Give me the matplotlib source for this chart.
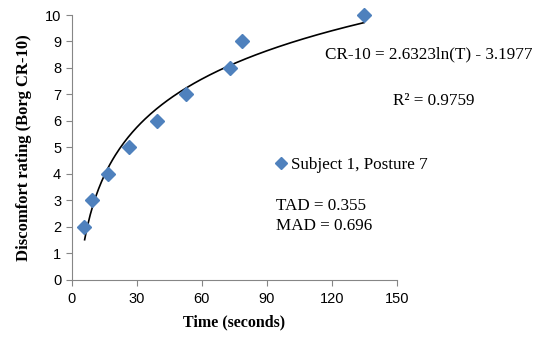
import numpy as np
import matplotlib.pyplot as plt

# data points
time_s = [5.5, 9.5, 16.7, 26.6, 39.3, 52.7, 72.9, 78.7, 134.9]
rating = [2, 3, 4, 5, 6, 7, 8, 9, 10]

# log fit shown on the chart
fit_a = 2.6323
fit_b = -3.1977
fit_t = np.linspace(6.0, 134.9, 200)
fit_y = fit_a * np.log(fit_t) + fit_b

fig = plt.figure(figsize=(5.51, 3.41), dpi=100)
ax = fig.add_axes([0.13, 0.179, 0.59, 0.777])

ax.plot(time_s, rating, linestyle="none", marker="D", markersize=7,
        color="#4F81BD", label="Subject 1, Posture 7", clip_on=False, zorder=3)
ax.plot(fit_t, fit_y, color="black", linewidth=1.2)

ax.set_xlim(0, 150)
ax.set_ylim(0, 10)
ax.set_xticks([0, 30, 60, 90, 120, 150])
ax.set_yticks(range(0, 11))
for lab in ax.get_xticklabels() + ax.get_yticklabels():
    lab.set_family("Liberation Sans")
    lab.set_fontsize(10.5)
ax.tick_params(direction="out", length=4, color="#868686")
ax.tick_params(axis="x", pad=5)
ax.spines["top"].set_visible(False)
ax.spines["right"].set_visible(False)
ax.spines["left"].set_color("#868686")
ax.spines["bottom"].set_color("#868686")

ax.set_xlabel("Time (seconds)", family="Liberation Serif", fontweight="bold",
              fontsize=11.5, labelpad=6)
ax.set_ylabel("Discomfort rating (Borg CR-10)", family="Liberation Serif",
              fontweight="bold", fontsize=12, labelpad=9)

serif = dict(family="Liberation Serif", fontsize=12.3)
fig.text(0.59, 0.828, "CR-10 = 2.6323ln(T) - 3.1977", **serif)
fig.text(0.713, 0.693, "R² = 0.9759", **serif)
fig.text(0.50, 0.385, "TAD = 0.355", **serif)
fig.text(0.50, 0.325, "MAD = 0.696", **serif)

leg = fig.legend(loc="center left", bbox_to_anchor=(0.467, 0.515), frameon=False,
                 handletextpad=0.1, handlelength=1.0, markerscale=0.85,
                 prop={"family": "Liberation Serif", "size": 12.3})

fig.savefig("out.png", dpi=100)
